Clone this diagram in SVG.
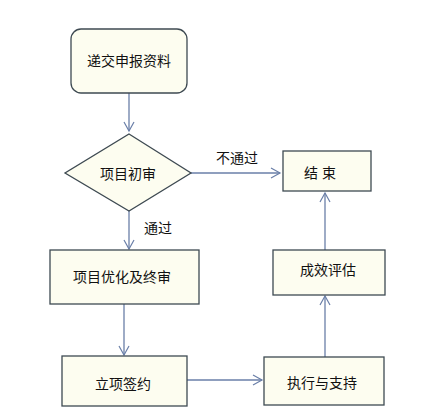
<svg xmlns="http://www.w3.org/2000/svg" width="442" height="411" viewBox="0 0 442 411">
<defs>
<marker id="arr" markerWidth="12" markerHeight="12" refX="10" refY="6" orient="auto" markerUnits="userSpaceOnUse">
<path d="M1,1 L10,6 L1,11" fill="none" stroke="#6a7fa8" stroke-width="1.2"/>
</marker>
<style>
.box{fill:#fdfdf0;stroke:#3e4a52;stroke-width:1.3}
.t{font-family:"Liberation Sans","Noto Sans CJK SC",sans-serif;font-size:14px;fill:#111;text-anchor:middle;dominant-baseline:central}
.c{fill:none;stroke:#6a7fa8;stroke-width:1.3;marker-end:url(#arr)}
</style>
</defs>
<rect width="442" height="411" fill="#ffffff"/>
<g id="connectors">
<line class="c" x1="129" y1="93" x2="129" y2="131"/>
<line class="c" x1="191" y1="173" x2="280" y2="173"/>
<line class="c" x1="129" y1="211" x2="129" y2="249"/>
<line class="c" x1="124" y1="304" x2="124" y2="355"/>
<line class="c" x1="187" y1="380" x2="262" y2="380"/>
<line class="c" x1="325" y1="357" x2="325" y2="296"/>
<line class="c" x1="325" y1="250" x2="325" y2="193"/>
<text class="t" x="237" y="158">不通过</text>
<text class="t" x="158" y="228">通过</text>
</g>
<g id="n1">
<rect class="box" x="71" y="29" width="116" height="64" rx="10"/>
<text class="t" x="129" y="61">递交申报资料</text>
</g>
<g id="n2">
<polygon class="box" points="129,134 191,173 129,211 65,173"/>
<text class="t" x="128" y="174">项目初审</text>
</g>
<g id="n3">
<rect class="box" x="283" y="151" width="88" height="40"/>
<text class="t" x="320" y="173">结 束</text>
</g>
<g id="n4">
<rect class="box" x="50" y="250" width="149" height="54"/>
<text class="t" x="122" y="277">项目优化及终审</text>
</g>
<g id="n5">
<rect class="box" x="62" y="356" width="125" height="50"/>
<text class="t" x="123" y="384">立项签约</text>
</g>
<g id="n6">
<rect class="box" x="264" y="357" width="120" height="48"/>
<text class="t" x="322" y="383">执行与支持</text>
</g>
<g id="n7">
<rect class="box" x="273" y="250" width="112" height="45"/>
<text class="t" x="328" y="270">成效评估</text>
</g>
</svg>
